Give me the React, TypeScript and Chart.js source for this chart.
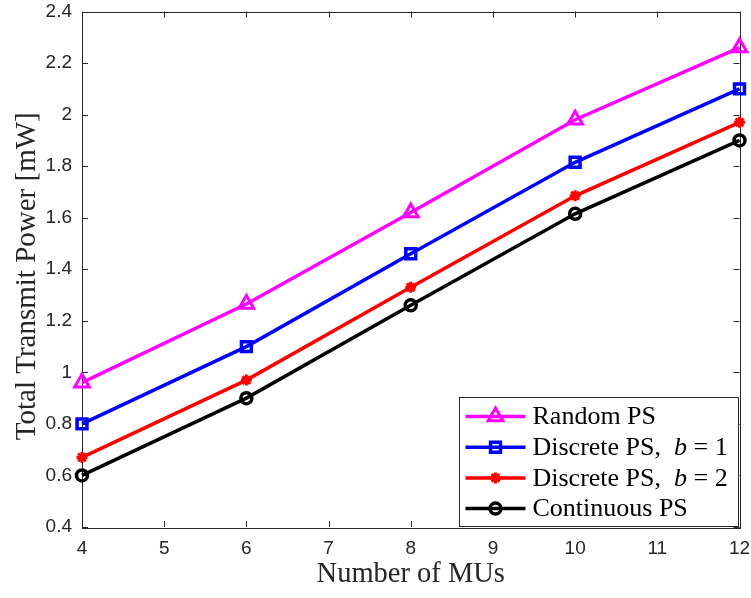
import React, { useEffect, useRef } from "react";
import { Chart, registerables } from "chart.js";

Chart.register(...registerables);

// ---- data ----
const numberOfMUs = [4, 6, 8, 10, 12];
const randomPS = [0.96, 1.265, 1.62, 1.98, 2.26];
const discretePSb1 = [0.8, 1.1, 1.46, 1.815, 2.1];
const discretePSb2 = [0.67, 0.97, 1.33, 1.685, 1.97];
const continuousPS = [0.6, 0.9, 1.26, 1.615, 1.9];

const xTickValues = [4, 5, 6, 7, 8, 9, 10, 11, 12];
const yTickValues = [0.4, 0.6, 0.8, 1.0, 1.2, 1.4, 1.6, 1.8, 2.0, 2.2, 2.4];

const xAxisTitle = "Number of MUs";
const yAxisTitle = "Total Transmit Power [mW]";

type Part = { text: string; italic?: boolean };
const legendLabels: Part[][] = [
  [{ text: "Random PS" }],
  [{ text: "Discrete PS,  " }, { text: "b", italic: true }, { text: " = 1" }],
  [{ text: "Discrete PS,  " }, { text: "b", italic: true }, { text: " = 2" }],
  [{ text: "Continuous PS" }],
];

const AXIS_COLOR = "#262626";
const SERIF = "'Liberation Serif', 'Times New Roman', serif";
const SANS = "'Liberation Sans', Arial, Helvetica, sans-serif";

function drawMarker(ctx: CanvasRenderingContext2D, style: string, x: number, y: number, r: number, color: string, bw: number) {
  ctx.save();
  ctx.strokeStyle = color;
  ctx.lineWidth = bw;
  ctx.beginPath();
  if (style === "triangle") {
    let rad = 0;
    ctx.moveTo(x + Math.sin(rad) * r, y - Math.cos(rad) * r);
    rad += (2 * Math.PI) / 3;
    ctx.lineTo(x + Math.sin(rad) * r, y - Math.cos(rad) * r);
    rad += (2 * Math.PI) / 3;
    ctx.lineTo(x + Math.sin(rad) * r, y - Math.cos(rad) * r);
    ctx.closePath();
  } else if (style === "rect") {
    const s = r * Math.SQRT1_2;
    ctx.rect(x - s, y - s, 2 * s, 2 * s);
  } else if (style === "star") {
    const s = r * Math.SQRT1_2;
    ctx.moveTo(x - s, y - s);
    ctx.lineTo(x + s, y + s);
    ctx.moveTo(x - s, y + s);
    ctx.lineTo(x + s, y - s);
    ctx.moveTo(x, y - r);
    ctx.lineTo(x, y + r);
    ctx.moveTo(x - r, y);
    ctx.lineTo(x + r, y);
  } else {
    ctx.arc(x, y, r, 0, Math.PI * 2);
  }
  ctx.stroke();
  ctx.restore();
}

const boxPlugin = {
  id: "matlabBox",
  beforeDatasetsDraw(chart: any) {
    const { ctx, chartArea } = chart;
    const { left, right, top, bottom } = chartArea;
    const xs = chart.scales.x;
    const ys = chart.scales.y;
    const tl = 6;
    ctx.save();
    ctx.strokeStyle = AXIS_COLOR;
    ctx.lineWidth = 1;
    ctx.beginPath();
    for (const v of xTickValues) {
      const px = Math.round(xs.getPixelForValue(v)) + 0.5;
      ctx.moveTo(px, bottom);
      ctx.lineTo(px, bottom - tl);
      ctx.moveTo(px, top);
      ctx.lineTo(px, top + tl);
    }
    for (const v of yTickValues) {
      const py = Math.round(ys.getPixelForValue(v)) + 0.5;
      ctx.moveTo(left, py);
      ctx.lineTo(left + tl, py);
      ctx.moveTo(right, py);
      ctx.lineTo(right - tl, py);
    }
    ctx.stroke();
    ctx.strokeRect(Math.round(left) + 0.5, Math.round(top) + 0.5, Math.round(right - left), Math.round(bottom - top));

    // y-axis title
    ctx.translate(27, (top + bottom) / 2 + 7);
    ctx.rotate(-Math.PI / 2);
    ctx.fillStyle = AXIS_COLOR;
    ctx.font = `29px ${SERIF}`;
    ctx.textAlign = "center";
    ctx.textBaseline = "middle";
    ctx.fillText(yAxisTitle, 0, 0);
    ctx.restore();
  },
};

const legendPlugin = {
  id: "matlabLegend",
  afterDraw(chart: any) {
    const { ctx, chartArea } = chart;
    const w = 279;
    const h = 129;
    const bx = Math.round(chartArea.right - 2 - w) + 0.5;
    const by = Math.round(chartArea.bottom - h) - 0.5;
    ctx.save();
    ctx.fillStyle = "#ffffff";
    ctx.fillRect(bx, by, w, h);
    ctx.strokeStyle = AXIS_COLOR;
    ctx.lineWidth = 1;
    ctx.strokeRect(bx, by, w, h);
    const fontSize = 26;
    chart.data.datasets.forEach((ds: any, i: number) => {
      const cy = by + 19 + i * 30.7;
      const x0 = bx + 6;
      const x1 = bx + 66;
      ctx.strokeStyle = ds.borderColor;
      ctx.lineWidth = ds.borderWidth;
      ctx.beginPath();
      ctx.moveTo(x0, cy);
      ctx.lineTo(x1, cy);
      ctx.stroke();
      drawMarker(ctx, ds.pointStyle, (x0 + x1) / 2, cy, ds.pointRadius, ds.borderColor, ds.pointBorderWidth);
      let tx = bx + 73;
      ctx.fillStyle = "#000000";
      ctx.textBaseline = "middle";
      ctx.textAlign = "left";
      for (const part of legendLabels[i]) {
        ctx.font = `${part.italic ? "italic " : ""}${fontSize}px ${SERIF}`;
        ctx.fillText(part.text, tx, cy + 1);
        tx += ctx.measureText(part.text).width;
      }
    });
    ctx.restore();
  },
};

function makeDataset(label: string, values: number[], color: string, style: string, radius: number, bw: number) {
  return {
    label,
    data: numberOfMUs.map((x, i) => ({ x, y: values[i] })),
    borderColor: color,
    backgroundColor: "transparent",
    borderWidth: 3.5,
    pointStyle: style,
    pointRadius: radius,
    pointHoverRadius: radius,
    pointBorderWidth: bw,
    pointBorderColor: color,
    pointBackgroundColor: "transparent",
    tension: 0,
    clip: false,
  };
}

export default function App() {
  const canvasRef = useRef<HTMLCanvasElement | null>(null);

  useEffect(() => {
    const canvas = canvasRef.current;
    if (!canvas) return;
    const chart = new Chart(canvas, {
      type: "line",
      data: {
        datasets: [
          makeDataset("Random PS", randomPS, "#ff00ff", "triangle", 8.5, 3),
          makeDataset("Discrete PS, b = 1", discretePSb1, "#0000ff", "rect", 7, 3.5),
          makeDataset("Discrete PS, b = 2", discretePSb2, "#ff0000", "star", 5.5, 3),
          makeDataset("Continuous PS", continuousPS, "#000000", "circle", 5.5, 3.5),
        ] as any,
      },
      options: {
        animation: false,
        responsive: false,
        devicePixelRatio: 1,
        layout: { padding: 0 },
        plugins: { legend: { display: false }, tooltip: { enabled: false } },
        events: [],
        scales: {
          x: {
            type: "linear",
            min: 4,
            max: 12,
            grid: { display: false, drawTicks: false },
            border: { display: false },
            afterBuildTicks: (scale: any) => {
              scale.ticks = xTickValues.map((v) => ({ value: v }));
            },
            afterFit: (scale: any) => {
              scale.height = 71;
              scale.paddingLeft = 0;
              scale.paddingRight = 11;
            },
            ticks: {
              color: AXIS_COLOR,
              font: { family: SANS, size: 19, lineHeight: 1 },
              padding: 12,
              maxRotation: 0,
              autoSkip: false,
              callback: (v: any) => String(v),
            },
            title: {
              display: true,
              text: xAxisTitle,
              color: AXIS_COLOR,
              font: { family: SERIF, size: 28.5, lineHeight: 1.2 },
              padding: { top: 0, bottom: 6 },
            },
          },
          y: {
            type: "linear",
            min: 0.4,
            max: 2.4,
            grid: { display: false, drawTicks: false },
            border: { display: false },
            afterBuildTicks: (scale: any) => {
              scale.ticks = yTickValues.map((v) => ({ value: v }));
            },
            afterFit: (scale: any) => {
              scale.width = 82;
              scale.paddingTop = 10;
              scale.paddingBottom = 0;
            },
            ticks: {
              color: AXIS_COLOR,
              font: { family: SANS, size: 19, lineHeight: 1 },
              padding: 10,
              autoSkip: false,
              callback: (v: any) => String(Math.round(Number(v) * 10) / 10),
            },
            title: { display: false },
          },
        },
      } as any,
      plugins: [boxPlugin, legendPlugin],
    });
    return () => chart.destroy();
  }, []);

  return (
    <div style={{ position: "absolute", left: 0, top: 0, width: 751, height: 598, background: "#ffffff" }}>
      <canvas ref={canvasRef} width={751} height={598} style={{ display: "block" }} />
    </div>
  );
}
